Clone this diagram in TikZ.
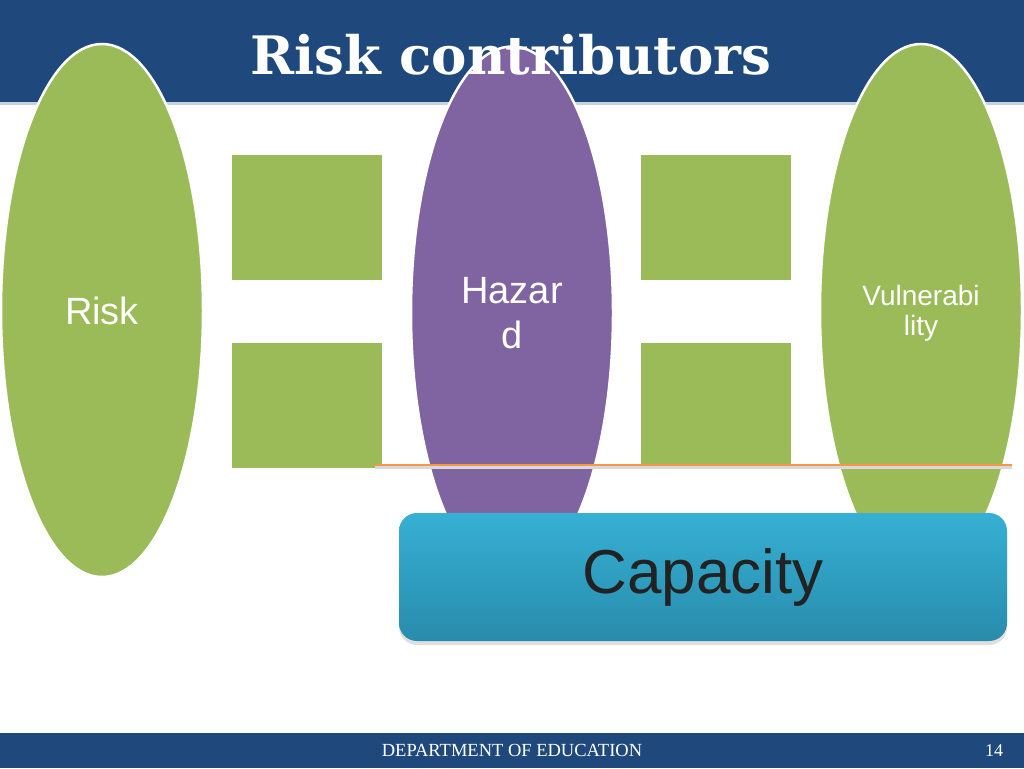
\documentclass[tikz,border=0pt]{standalone}
\usepackage{fontspec}
\setmainfont{Liberation Sans}
\newfontfamily\titlefont{DejaVu Serif}
\newfontfamily\footfont{Liberation Serif}
\usetikzlibrary{shapes.geometric, shadows, positioning}
\definecolor{navy}{RGB}{31,73,125}
\definecolor{leaf}{RGB}{155,187,89}
\definecolor{plum}{RGB}{128,100,162}
\definecolor{tangerine}{RGB}{247,150,70}
\definecolor{captop}{RGB}{54,176,212}
\definecolor{capbot}{RGB}{40,140,172}

\begin{document}
\begin{tikzpicture}[
    x=1pt, y=-1pt,
    oval/.style={ellipse, draw=white, line width=2.5pt, minimum width=202pt, minimum height=533pt, inner sep=0pt, text=white, align=center},
    tile/.style={rectangle, fill=leaf, minimum width=150pt, minimum height=125pt, inner sep=0pt},
    capbox/.style={rectangle, rounded corners=18pt, top color=captop, bottom color=capbot, minimum width=608pt, minimum height=128pt,
        drop shadow={opacity=0.25, shadow xshift=0pt, shadow yshift=-4pt}, text={rgb,255:red,34;green,34;blue,34}, font=\fontsize{62}{70}\selectfont}
]
\useasboundingbox (0,0) rectangle (1024,768);
\fill[white] (0,0) rectangle (1024,768);
% header and footer bands
\fill[navy] (0,0) rectangle (1024,102);
\fill[navy!25] (0,102) rectangle (1024,104.5);
\fill[navy] (0,733) rectangle (1024,768);

\node[oval, fill=leaf, font=\fontsize{38}{45}\selectfont] (risk) at (102,310.5) {Risk};
\node[oval, fill=plum, font=\fontsize{38}{45}\selectfont] (hazard) at (512,313) {Hazar\\d};
\node[oval, fill=leaf, label={[text=white, align=center, yshift=-3pt, font=\fontsize{28}{30}\selectfont]center:Vulnerabi\\lity}] (vuln) at (921,310.5) {};

\node[tile] (lt) at (307,217) {};
\node[tile, below=63pt of lt] (lb) {};
\node[tile, right=259pt of lt] (rt) {};
\node[tile, right=259pt of lb] (rb) {};

\coordinate (lstart) at (375,465);
\coordinate (lend) at (1012,465);
\draw[black!15, line width=2.5pt] ([yshift=-2.5pt]lstart) -- ([yshift=-2.5pt]lend);
\draw[tangerine, line width=2.5pt] (lstart) -- (lend);

\node[capbox] (capacity) at (703,577) {Capacity};

\node[text=white, font=\titlefont\bfseries\fontsize{53}{58}\selectfont] (title) at (511,55) {Risk contributors};
\node[text=white, font=\footfont\fontsize{18.5}{20}\selectfont] (dept) at (512,750.5) {DEPARTMENT OF EDUCATION};
\node[text=white, font=\footfont\fontsize{18}{20}\selectfont] (page) at (994,750.5) {14};
\end{tikzpicture}
\end{document}
